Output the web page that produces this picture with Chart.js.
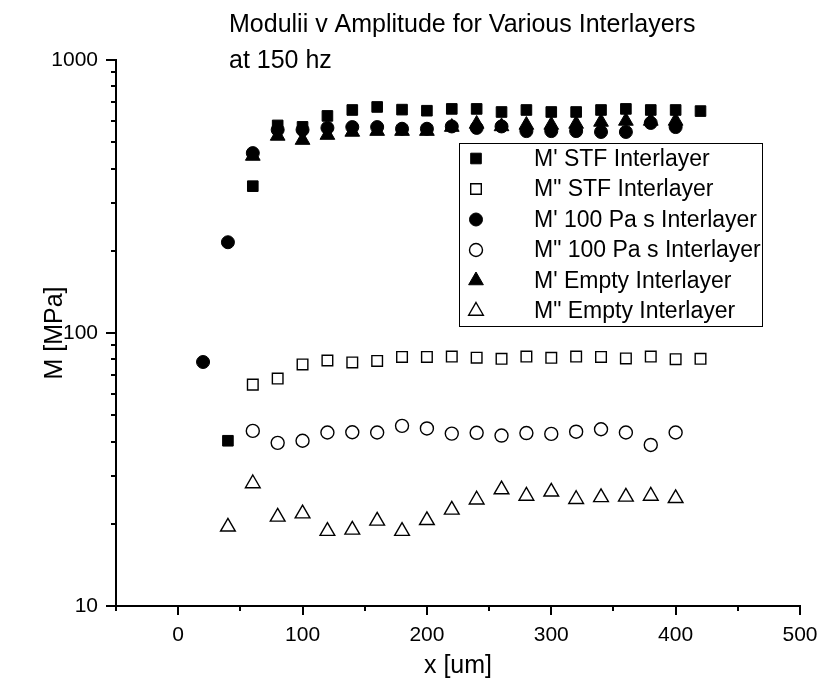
<!DOCTYPE html>
<html>
<head>
<meta charset="utf-8">
<script src="https://cdn.jsdelivr.net/npm/chart.js@4/dist/chart.umd.min.js"></script>
<style>
  html, body { margin:0; padding:0; background:#fff; }
  #wrap { width:823px; height:692px; position:relative; }
</style>
</head>
<body>
<div id="wrap"><canvas id="chart" width="823" height="692"></canvas></div>
<script>
// x positions [um] for each series
const xStf1   = [40,60,80,100,120,140,160,180,200,220,240,260,280,300,320,340,360,380,400,420];
const xStf2   = [60,80,100,120,140,160,180,200,220,240,260,280,300,320,340,360,380,400,420];
const xPa1    = [20,40,60,80,100,120,140,160,180,200,220,240,260,280,300,320,340,360,380,400];
const xPa2    = [60,80,100,120,140,160,180,200,220,240,260,280,300,320,340,360,380,400];
const xEmpty1 = [60,80,100,120,140,160,180,200,220,240,260,280,300,320,340,360,380,400];
const xEmpty2 = [40,60,80,100,120,140,160,180,200,220,240,260,280,300,320,340,360,380,400];

// moduli [MPa]
const mStf1   = [40.3,345,576,569,624,656,673,658,652,662,662,645,656,645,645,656,662,656,656,650];
const mStf2   = [64.7,68.1,76.7,79.3,78.0,79.0,81.7,81.7,82.0,81.2,80.4,82.0,81.1,82.0,81.7,80.7,82.0,80.2,80.4];
const mPa1    = [78.3,215,456,555,555,564,568,568,560,560,571,564,571,549,549,549,545,545,588,568];
const mPa2    = [43.8,39.6,40.3,43.2,43.3,43.2,45.7,44.7,42.8,43.1,42.1,43.0,42.7,43.5,44.4,43.2,38.9,43.2];
const mEmpty1 = [445,527,509,531,545,549,549,549,568,583,571,578,578,583,593,598,598,598];
const mEmpty2 = [19.5,28.1,21.2,21.8,18.8,19.0,20.5,18.8,20.6,22.5,24.5,26.7,25.3,26.2,24.6,25.0,25.1,25.3,24.8];

const seriesNames = ["M' STF Interlayer", 'M" STF Interlayer', "M' 100 Pa s Interlayer",
                     'M" 100 Pa s Interlayer', "M' Empty Interlayer", 'M" Empty Interlayer'];

const xTicks = [-50,0,50,100,150,200,250,300,350,400,450,500];
const xLabels = [0,100,200,300,400,500];
const yTicks = [10,20,30,40,50,60,70,80,90,100,200,300,400,500,600,700,800,900,1000];
const yLabels = [10,100,1000];

const FONT = '"Liberation Sans", Arial, sans-serif';

function pts(xs, ys) { return xs.map((x, i) => ({x: x, y: ys[i]})); }

function ds(label, xs, ys, style, filled, r) {
  return {
    label: label,
    data: pts(xs, ys),
    pointStyle: style,
    pointRadius: r,
    pointHoverRadius: r,
    pointBorderWidth: filled ? 1 : 1.4,
    pointBackgroundColor: filled ? '#000' : '#fff',
    pointBorderColor: '#000',
    showLine: false
  };
}

const datasets = [
  ds(seriesNames[0], xStf1, mStf1, 'rect', true, 7.5),
  ds(seriesNames[1], xStf2, mStf2, 'rect', false, 7.5),
  ds(seriesNames[2], xPa1, mPa1, 'circle', true, 6.5),
  ds(seriesNames[3], xPa2, mPa2, 'circle', false, 6.5),
  ds(seriesNames[4], xEmpty1, mEmpty1, 'triangle', true, 8.5),
  ds(seriesNames[5], xEmpty2, mEmpty2, 'triangle', false, 8.5)
];

// axis ticks, title and boxed legend drawn on top
const extras = {
  id: 'extras',
  afterDraw(chart) {
    const ctx = chart.ctx;
    const xs = chart.scales.x, ys = chart.scales.y;
    const a = chart.chartArea;
    ctx.save();
    ctx.strokeStyle = '#000';
    ctx.lineWidth = 2;
    ctx.beginPath();
    xTicks.forEach(v => {
      const px = Math.round(xs.getPixelForValue(v));
      const len = xLabels.includes(v) ? 9 : 5;
      ctx.moveTo(px, a.bottom); ctx.lineTo(px, a.bottom + len);
    });
    yTicks.forEach(v => {
      const py = Math.round(ys.getPixelForValue(v));
      const len = yLabels.includes(v) ? 10 : 5;
      ctx.moveTo(a.left, py); ctx.lineTo(a.left - len, py);
    });
    ctx.stroke();

    // title
    ctx.fillStyle = '#000';
    ctx.font = '25px ' + FONT;
    ctx.textAlign = 'left';
    ctx.textBaseline = 'alphabetic';
    ctx.fillText('Modulii v Amplitude for Various Interlayers', 229, 32);
    ctx.fillText('at 150 hz', 229, 68);

    // legend
    const lx = 459, ly = 143, lw = 303, lh = 183;
    ctx.lineWidth = 1;
    ctx.strokeRect(lx + 0.5, ly + 0.5, lw, lh);
    ctx.font = '23px ' + FONT;
    ctx.textBaseline = 'middle';
    chart.data.datasets.forEach((d, i) => {
      const cy = ly + 15.5 + i * 30.5;
      ctx.fillStyle = d.pointBackgroundColor;
      ctx.strokeStyle = '#000';
      ctx.lineWidth = d.pointBorderWidth;
      Chart.helpers.drawPoint(ctx, {pointStyle: d.pointStyle, radius: d.pointRadius, rotation: 0, borderWidth: d.pointBorderWidth}, 476, cy);
      ctx.fillStyle = '#000';
      ctx.fillText(d.label, 534, cy + 1);
    });
    ctx.restore();
  }
};

new Chart(document.getElementById('chart').getContext('2d'), {
  type: 'scatter',
  data: { datasets: datasets },
  options: {
    responsive: false,
    animation: false,
    layout: { padding: { top: 60, right: 23, left: 0, bottom: 0 } },
    plugins: { legend: { display: false }, tooltip: { enabled: false }, title: { display: false } },
    scales: {
      x: {
        type: 'linear',
        min: -50, max: 500,
        afterBuildTicks: s => { s.ticks = xTicks.map(v => ({value: v})); },
        afterFit: s => { s.height = 86; s.paddingRight = 0; s.paddingLeft = 0; },
        grid: { display: false },
        border: { display: true, color: '#000', width: 2 },
        ticks: {
          autoSkip: false, maxRotation: 0, padding: 9, color: '#000',
          font: { family: FONT, size: 21 },
          callback: v => xLabels.includes(v) ? String(v) : ''
        },
        title: { display: true, text: 'x [um]', color: '#000', font: { family: FONT, size: 25 }, padding: { top: 0, bottom: 11 } }
      },
      y: {
        type: 'logarithmic',
        min: 10, max: 1000,
        afterBuildTicks: s => { s.ticks = yTicks.map(v => ({value: v})); },
        afterFit: s => { s.width = 116; s.paddingTop = 0; s.paddingBottom = 0; },
        grid: { display: false },
        border: { display: true, color: '#000', width: 2 },
        ticks: {
          autoSkip: false, padding: 10, color: '#000',
          font: { family: FONT, size: 21 },
          callback: v => yLabels.includes(v) ? String(v) : ''
        },
        title: { display: true, text: 'M [MPa]', color: '#000', font: { family: FONT, size: 25 }, padding: { top: 40, bottom: 0 } }
      }
    }
  },
  plugins: [extras]
});
</script>
</body>
</html>
